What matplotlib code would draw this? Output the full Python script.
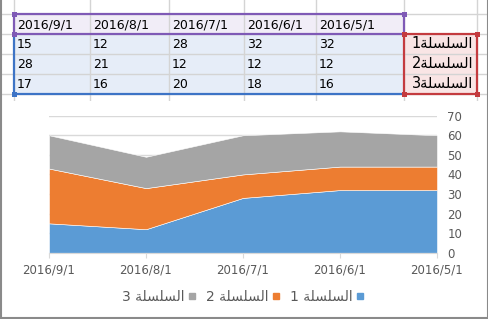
import numpy as np
import matplotlib
matplotlib.use("Agg")
import matplotlib.pyplot as plt
from matplotlib.patches import Rectangle
from matplotlib.lines import Line2D

# ---------------- data ----------------
dates = ['2016/9/1', '2016/8/1', '2016/7/1', '2016/6/1', '2016/5/1']
series1 = [15, 12, 28, 32, 32]
series2 = [28, 21, 12, 12, 12]
series3 = [17, 16, 20, 18, 16]
series_names = ['السلسلة 1', 'السلسلة 2', 'السلسلة 3']
colors = ['#5b9bd5', '#ed7d31', '#a5a5a5']

# ------------- simple Arabic shaping for display (matplotlib has no shaper) -------------
FORMS = {
    'ا': ('\uFE8D', '\uFE8E', None, None),
    'ل': ('\uFEDD', '\uFEDE', '\uFEDF', '\uFEE0'),
    'س': ('\uFEB1', '\uFEB2', '\uFEB3', '\uFEB4'),
    'ة': ('\uFE93', '\uFE94', None, None),
}

def shape_word(w):
    out = []
    for i, ch in enumerate(w):
        if ch not in FORMS:
            out.append(ch)
            continue
        prev = w[i - 1] if i > 0 else None
        nxt = w[i + 1] if i + 1 < len(w) else None
        jp = prev in FORMS and FORMS[prev][2] is not None
        jn = FORMS[ch][2] is not None and nxt in FORMS
        iso, fin, ini, med = FORMS[ch]
        if jp and jn:
            out.append(med)
        elif jp:
            out.append(fin)
        elif jn:
            out.append(ini)
        else:
            out.append(iso)
    return ''.join(out)

def rtl(s, sep=' '):
    toks = s.split(' ')
    vis = []
    for t in reversed(toks):
        if any(c in FORMS for c in t):
            vis.append(shape_word(t)[::-1])
        else:
            vis.append(t)
    return sep.join(vis)

plt.rcParams['font.family'] = ['DejaVu Sans']

W, H = 489, 319
fig = plt.figure(figsize=(W / 100, H / 100), dpi=100)
fig.patch.set_facecolor('white')

# ---------------- spreadsheet layer (pixel coords) ----------------
sh = fig.add_axes([0, 0, 1, 1])
sh.set_xlim(0, W)
sh.set_ylim(H, 0)
sh.axis('off')

col_x = [14, 90, 169, 244, 316, 404, 477]
row_y = [14, 34, 54, 74, 94]
grid_c = '#d4d4d4'

# fills
sh.add_patch(Rectangle((14, 14), 404 - 14, 20, facecolor='#f1edf7', edgecolor='none', zorder=1))
sh.add_patch(Rectangle((14, 34), 404 - 14, 60, facecolor='#e6edf8', edgecolor='none', zorder=1))
sh.add_patch(Rectangle((404, 34), 477 - 404, 60, facecolor='#f9e5e5', edgecolor='none', zorder=1))

for x in col_x:
    sh.plot([x, x], [0, 101], color=grid_c, lw=1, zorder=2)
for y in row_y:
    sh.plot([0, W], [y, y], color=grid_c, lw=1, zorder=2)

# range borders
pur, blu, red = '#7f5ab6', '#3d74c6', '#c43b3f'
sh.plot([14, 404, 404, 14, 14], [14, 14, 34, 34, 14], color=pur, lw=1.6, zorder=3)
sh.plot([14, 14, 404], [34, 94, 94], color=blu, lw=1.6, zorder=3)
sh.plot([404, 477, 477, 404, 404], [34, 34, 94, 94, 34], color=red, lw=1.6, zorder=3)
hs = 5
for (x, y, c) in [(14, 14, pur), (404, 14, pur), (14, 34, pur),
                  (404, 34, red), (477, 34, red), (404, 94, red), (477, 94, red),
                  (14, 94, blu)]:
    sh.add_patch(Rectangle((x - hs / 2, y - hs / 2), hs, hs, facecolor=c, edgecolor='none', zorder=4))

# cell texts
for j, d in enumerate(dates):
    sh.text(col_x[j] + 3, 24.5, d, fontsize=9, va='center', ha='left', color='black', zorder=5)
for i, vals in enumerate([series1, series2, series3]):
    for j, v in enumerate(vals):
        sh.text(col_x[j] + 3, 44.5 + 20 * i, str(v), fontsize=9, va='center', ha='left',
                color='black', zorder=5)
    sh.text(473, 44 + 20 * i, rtl(series_names[i], sep=''), fontsize=10.5, va='center',
            ha='right', color='black', zorder=5)

# chart area background
sh.add_patch(Rectangle((1.5, 101), 485, 216, facecolor='white', edgecolor='none', zorder=6))

# window border
bc = '#8a8a8a'
sh.plot([0.8, 0.8], [0, H], color=bc, lw=1.5, zorder=7)
sh.plot([487.5, 487.5], [0, H], color=bc, lw=1.5, zorder=7)
sh.plot([0, W], [318, 318], color=bc, lw=1.5, zorder=7)

# ---------------- chart ----------------
left, right = 49 / W, 437 / W
bottom = (H - 252.7) / H
top = (H - 115.7) / H
ax = fig.add_axes([left, bottom, right - left, top - bottom])
ax.set_facecolor('none')
x = np.arange(len(dates))
ax.stackplot(x, series1, series2, series3, colors=colors, edgecolor='white', linewidth=0.4, zorder=3)
ax.set_xlim(0, len(dates) - 1)
ax.set_ylim(0, 70)
ax.set_yticks(np.arange(0, 71, 10))
ax.yaxis.grid(True, color='#d9d9d9', lw=1, zorder=0)
ax.set_axisbelow(True)
ax.yaxis.tick_right()
ax.tick_params(axis='y', length=0, pad=7.5, labelsize=8.5, labelcolor='#595959')
ax.set_xticks(x)
ax.set_xticklabels(dates)
ax.tick_params(axis='x', length=3.5, width=0.8, color='#d9d9d9', pad=4.5, labelsize=8.5,
               labelcolor='#595959')
for s in ['top', 'left', 'right']:
    ax.spines[s].set_visible(False)
ax.spines['bottom'].set_color('#d9d9d9')
ax.spines['bottom'].set_linewidth(0.8)
ax.spines['bottom'].set_zorder(4)

# legend (RTL: marker right of text, series 3 on the left)
handles = [Line2D([], [], marker='s', linestyle='none', markersize=4.5, color=c) for c in colors]
labels = [rtl(n) for n in series_names]
leg = fig.legend(handles[::-1], labels[::-1], loc='center', bbox_to_anchor=(243 / W, (H - 297) / H),
                 ncol=3, frameon=False, markerfirst=False, fontsize=10, handlelength=0.5,
                 handletextpad=0.3, columnspacing=0.75, labelcolor='#595959')

fig.savefig('out.png', dpi=100, facecolor='white')
